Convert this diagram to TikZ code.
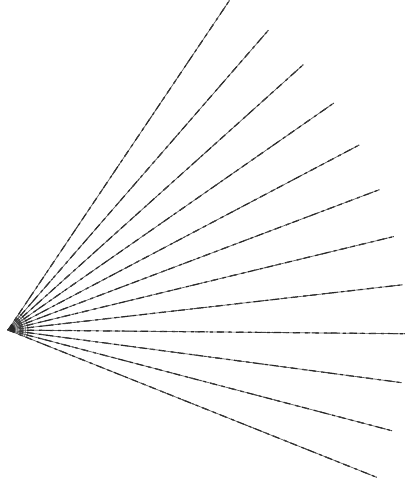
\documentclass[tikz,border=0pt]{standalone}
\begin{document}
\begin{tikzpicture}[x=1pt,y=-1pt,
  wire/.style={line width=0.7pt,draw=black!65},
  twist/.style={line width=1.2pt,draw=black!85,dash pattern=on 7pt off 5pt on 3pt off 4pt},
  twisttwo/.style={line width=1.0pt,draw=black!75,dash pattern=on 2pt off 9pt on 5pt off 6pt},
  fanarc/.style={line width=1.0pt,draw=black!45}]
\useasboundingbox (0,0) rectangle (408,485);
\coordinate (O) at (8,330);
% fan of arcs near apex
\foreach \r in {5,7.5,10,12.5,15,17.5,20} {
  \draw[fanarc] ({8+\r*cos(57)},{330-\r*sin(57)}) arc[start angle=-57,end angle=23,radius=\r];
}
\foreach \i in {0,...,11} {
  \pgfmathsetmacro{\a}{56.1-7.08*\i}
  \coordinate (E\i) at ({8+397*cos(\a)},{330-397*sin(\a)});
  \draw[wire] (O) -- (E\i);
  \draw[twist] (O) -- (E\i);
  \draw[twisttwo] (O) -- (E\i);
}
\end{tikzpicture}
\end{document}
